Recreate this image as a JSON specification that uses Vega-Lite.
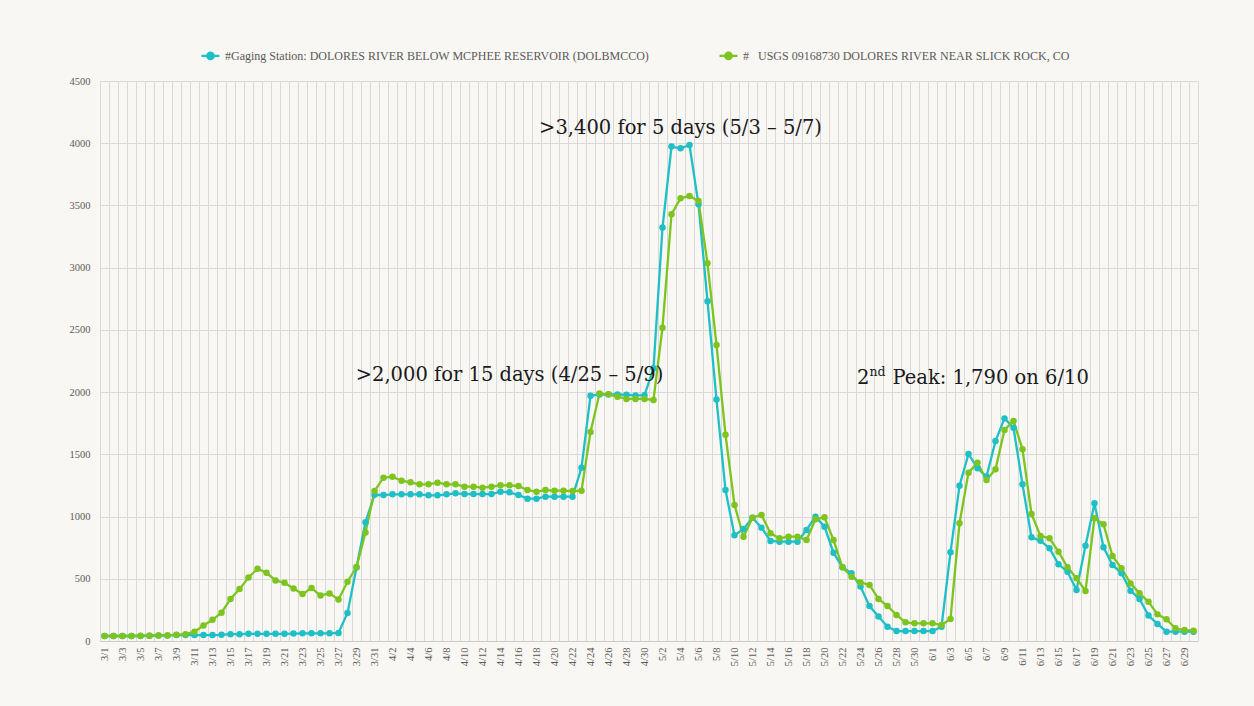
{
  "$schema": "https://vega.github.io/schema/vega-lite/v6.json",
  "width": 1098,
  "height": 560,
  "autosize": "none",
  "padding": {"left": 100, "top": 81, "right": 56, "bottom": 65},
  "background": "#f9f7f3",
  "config": {"view": {"stroke": null}, "font": "Liberation Serif"},
  "layer": [
    {
      "data": {"values": [
        {"d":"3/1","a":40,"b":40},{"d":"3/2","a":40,"b":40},{"d":"3/3","a":40,"b":40},{"d":"3/4","a":40,"b":40},{"d":"3/5","a":40,"b":42},
        {"d":"3/6","a":42,"b":42},{"d":"3/7","a":45,"b":45},{"d":"3/8","a":45,"b":45},{"d":"3/9","a":48,"b":50},{"d":"3/10","a":48,"b":55},
        {"d":"3/11","a":48,"b":75},{"d":"3/12","a":48,"b":125},{"d":"3/13","a":48,"b":170},{"d":"3/14","a":50,"b":227},{"d":"3/15","a":55,"b":337},
        {"d":"3/16","a":55,"b":417},{"d":"3/17","a":58,"b":510},{"d":"3/18","a":58,"b":580},{"d":"3/19","a":58,"b":548},{"d":"3/20","a":58,"b":487},
        {"d":"3/21","a":58,"b":468},{"d":"3/22","a":60,"b":422},{"d":"3/23","a":62,"b":377},{"d":"3/24","a":62,"b":425},{"d":"3/25","a":62,"b":366},
        {"d":"3/26","a":62,"b":382},{"d":"3/27","a":65,"b":334},{"d":"3/28","a":225,"b":476},{"d":"3/29","a":590,"b":594},{"d":"3/30","a":955,"b":872},
        {"d":"3/31","a":1175,"b":1205},
        {"d":"4/1","a":1173,"b":1312},{"d":"4/2","a":1179,"b":1320},{"d":"4/3","a":1179,"b":1288},{"d":"4/4","a":1179,"b":1275},{"d":"4/5","a":1179,"b":1259},
        {"d":"4/6","a":1171,"b":1259},{"d":"4/7","a":1171,"b":1272},{"d":"4/8","a":1179,"b":1259},{"d":"4/9","a":1187,"b":1259},{"d":"4/10","a":1181,"b":1240},
        {"d":"4/11","a":1181,"b":1240},{"d":"4/12","a":1181,"b":1232},{"d":"4/13","a":1181,"b":1240},{"d":"4/14","a":1200,"b":1251},{"d":"4/15","a":1195,"b":1251},
        {"d":"4/16","a":1173,"b":1245},{"d":"4/17","a":1144,"b":1213},{"d":"4/18","a":1144,"b":1200},{"d":"4/19","a":1160,"b":1213},{"d":"4/20","a":1160,"b":1208},
        {"d":"4/21","a":1160,"b":1208},{"d":"4/22","a":1160,"b":1205},{"d":"4/23","a":1392,"b":1208},{"d":"4/24","a":1970,"b":1680},{"d":"4/25","a":1981,"b":1988},
        {"d":"4/26","a":1981,"b":1982},{"d":"4/27","a":1981,"b":1963},{"d":"4/28","a":1978,"b":1945},{"d":"4/29","a":1973,"b":1945},{"d":"4/30","a":1975,"b":1945},
        {"d":"5/1","a":2191,"b":1937},{"d":"5/2","a":3322,"b":2518},{"d":"5/3","a":3973,"b":3429},{"d":"5/4","a":3959,"b":3557},{"d":"5/5","a":3986,"b":3576},
        {"d":"5/6","a":3509,"b":3536},{"d":"5/7","a":2730,"b":3035},{"d":"5/8","a":1940,"b":2379},{"d":"5/9","a":1213,"b":1658},{"d":"5/10","a":849,"b":1093},
        {"d":"5/11","a":900,"b":838},{"d":"5/12","a":991,"b":991},{"d":"5/13","a":911,"b":1013},{"d":"5/14","a":804,"b":865},{"d":"5/15","a":798,"b":825},
        {"d":"5/16","a":798,"b":838},{"d":"5/17","a":798,"b":838},{"d":"5/18","a":892,"b":812},{"d":"5/19","a":999,"b":978},{"d":"5/20","a":919,"b":994},
        {"d":"5/21","a":710,"b":812},{"d":"5/22","a":592,"b":592},{"d":"5/23","a":544,"b":517},{"d":"5/24","a":437,"b":471},{"d":"5/25","a":281,"b":450},
        {"d":"5/26","a":196,"b":338},{"d":"5/27","a":115,"b":281},{"d":"5/28","a":80,"b":209},{"d":"5/29","a":80,"b":150},{"d":"5/30","a":80,"b":142},
        {"d":"5/31","a":80,"b":142},
        {"d":"6/1","a":80,"b":142},{"d":"6/2","a":115,"b":129},{"d":"6/3","a":713,"b":177},{"d":"6/4","a":1248,"b":946},{"d":"6/5","a":1503,"b":1353},
        {"d":"6/6","a":1388,"b":1433},{"d":"6/7","a":1321,"b":1294},{"d":"6/8","a":1607,"b":1380},{"d":"6/9","a":1789,"b":1696},{"d":"6/10","a":1714,"b":1768},
        {"d":"6/11","a":1259,"b":1540},{"d":"6/12","a":833,"b":1021},{"d":"6/13","a":806,"b":844},{"d":"6/14","a":745,"b":825},{"d":"6/15","a":616,"b":718},
        {"d":"6/16","a":557,"b":592},{"d":"6/17","a":410,"b":504},{"d":"6/18","a":766,"b":402},{"d":"6/19","a":1106,"b":986},{"d":"6/20","a":753,"b":938},
        {"d":"6/21","a":611,"b":683},{"d":"6/22","a":544,"b":584},{"d":"6/23","a":404,"b":463},{"d":"6/24","a":338,"b":383},{"d":"6/25","a":204,"b":316},
        {"d":"6/26","a":137,"b":214},{"d":"6/27","a":75,"b":174},{"d":"6/28","a":75,"b":102},{"d":"6/29","a":75,"b":88},{"d":"6/30","a":75,"b":83}
      ]},
      "transform": [{"fold": ["a", "b"], "as": ["series", "flow"]}],
      "mark": {"type": "line", "strokeWidth": 2.3, "point": {"filled": true, "size": 42}},
      "encoding": {
        "x": {
          "field": "d", "type": "ordinal", "sort": null,
          "scale": {"type": "band", "paddingInner": 0, "paddingOuter": 0},
          "axis": {
            "title": null, "labelAngle": -90, "tickBand": "extent", "grid": true,
            "gridColor": "#d9d9d9", "gridWidth": 1, "ticks": false,
            "domainColor": "#c8c8c8", "labelFont": "Liberation Serif", "labelFontSize": 10.5,
            "labelColor": "#595959", "labelPadding": 6, "labelOverlap": false,
            "labelExpr": "round(datum.index * 121) % 2 == 0 ? datum.label : ''"
          }
        },
        "y": {
          "field": "flow", "type": "quantitative",
          "scale": {"domain": [0, 4500], "nice": false},
          "axis": {
            "title": null, "values": [0,500,1000,1500,2000,2500,3000,3500,4000,4500], "format": "d",
            "grid": true, "gridColor": "#d9d9d9", "domain": false, "ticks": false,
            "labelFont": "Liberation Serif", "labelFontSize": 10.5, "labelColor": "#595959", "labelPadding": 10
          }
        },
        "color": {
          "field": "series", "type": "nominal",
          "scale": {"domain": ["a", "b"], "range": ["#1fbfc6", "#7dc41f"]},
          "legend": {
            "orient": "none", "legendX": 100, "legendY": -36, "direction": "horizontal", "title": null,
            "labelExpr": "datum.value == 'a' ? '#Gaging Station: DOLORES RIVER BELOW MCPHEE RESERVOIR (DOLBMCCO)' : '#\u00a0\u00a0\u00a0USGS 09168730 DOLORES RIVER NEAR SLICK ROCK, CO'",
            "labelFont": "Liberation Serif", "labelFontSize": 12, "labelColor": "#595959", "labelLimit": 700,
            "symbolType": "M-1,0L1,0M-0.35,0A0.35,0.35,0,1,1,0.35,0A0.35,0.35,0,1,1,-0.35,0",
            "symbolSize": 324, "symbolStrokeWidth": 2.3, "columnPadding": 64, "labelOffset": 4,
            "encode": {"symbols": {"update": {"fill": {"scale": "color", "field": "value"}, "stroke": {"scale": "color", "field": "value"}}}}
          }
        }
      }
    },
    {
      "data": {"values": [
        {"d": "5/4", "v": 4124, "t": ">3,400 for 5 days (5/3 \u2013 5/7)"},
        {"d": "4/15", "v": 2138, "t": ">2,000 for 15 days (4/25 \u2013 5/9)"}
      ]},
      "mark": {"type": "text", "fontSize": 19.5, "font": "DejaVu Serif", "color": "#1a1a1a", "align": "center", "baseline": "middle"},
      "encoding": {"x": {"field": "d", "type": "ordinal", "sort": null}, "y": {"field": "v", "type": "quantitative"}, "text": {"field": "t"}}
    },
    {
      "data": {"values": [{"d": "5/25", "v": 2114, "t": "2"}]},
      "mark": {"type": "text", "fontSize": 19.5, "font": "DejaVu Serif", "color": "#1a1a1a", "align": "right", "baseline": "middle"},
      "encoding": {"x": {"field": "d", "type": "ordinal", "sort": null}, "y": {"field": "v", "type": "quantitative"}, "text": {"field": "t"}}
    },
    {
      "data": {"values": [{"d": "5/25", "v": 2114, "t": "nd"}]},
      "mark": {"type": "text", "fontSize": 12.5, "font": "DejaVu Serif", "color": "#1a1a1a", "align": "left", "baseline": "middle", "dx": 0, "dy": -6},
      "encoding": {"x": {"field": "d", "type": "ordinal", "sort": null}, "y": {"field": "v", "type": "quantitative"}, "text": {"field": "t"}}
    },
    {
      "data": {"values": [{"d": "5/25", "v": 2114, "t": "Peak: 1,790 on 6/10"}]},
      "mark": {"type": "text", "fontSize": 19.5, "font": "DejaVu Serif", "color": "#1a1a1a", "align": "left", "baseline": "middle", "dx": 23},
      "encoding": {"x": {"field": "d", "type": "ordinal", "sort": null}, "y": {"field": "v", "type": "quantitative"}, "text": {"field": "t"}}
    }
  ]
}
